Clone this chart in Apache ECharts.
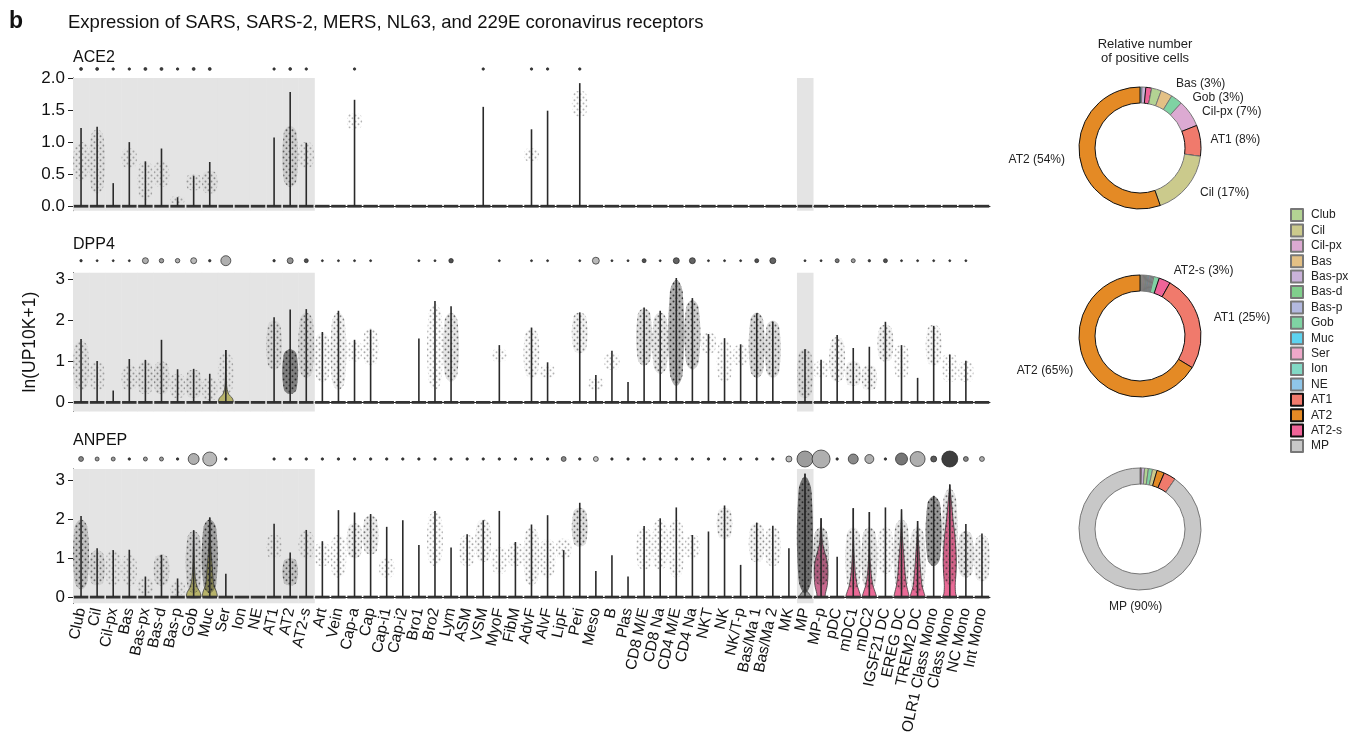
<!DOCTYPE html>
<html>
<head>
<meta charset="utf-8">
<script src="https://cdn.jsdelivr.net/npm/echarts@6/dist/echarts.min.js"></script>
<style>
  html, body { margin: 0; padding: 0; background: #fff; }
  #chart { width: 1359px; height: 743px; }
</style>
</head>
<body>
<div id="chart"></div>
<script>
// cell types along the x axis
const cellTypes = ['Club', 'Cil', 'Cil-px', 'Bas', 'Bas-px', 'Bas-d', 'Bas-p', 'Gob', 'Muc', 'Ser', 'Ion', 'NE',
  'AT1', 'AT2', 'AT2-s', 'Art', 'Vein', 'Cap-a', 'Cap', 'Cap-i1', 'Cap-i2', 'Bro1', 'Bro2', 'Lym', 'ASM', 'VSM',
  'MyoF', 'FibM', 'AdvF', 'AlvF', 'LipF', 'Peri', 'Meso', 'B', 'Plas', 'CD8 M/E', 'CD8 Na', 'CD4 M/E', 'CD4 Na',
  'NKT', 'NK', 'NK/T-p', 'Bas/Ma 1', 'Bas/Ma 2', 'MK', 'MP', 'MP-p', 'pDC', 'mDC1', 'mDC2', 'IGSF21 DC', 'EREG DC',
  'TREM2 DC', 'OLR1 Class Mono', 'Class Mono', 'NC Mono', 'Int Mono'];

// shaded columns (epithelial + MP)
const shadedTypes = ['Club', 'Cil', 'Cil-px', 'Bas', 'Bas-px', 'Bas-d', 'Bas-p', 'Gob', 'Muc', 'Ser', 'Ion', 'NE',
  'AT1', 'AT2', 'AT2-s', 'MP'];

// max expression per cell type (top of each violin)
const ace2Max = [1.22, 1.24, 0.36, 1.0, 0.70, 0.90, 0.14, 0.47, 0.69, 0, 0, 0, 1.07, 1.78, 0.99, 0, 0, 1.66, 0, 0,
  0, 0, 0, 0, 0, 1.55, 0, 0, 1.20, 1.49, 0, 1.92, 0, 0, 0, 0, 0, 0, 0, 0,
  0, 0, 0, 0, 0, 0, 0, 0, 0, 0, 0, 0, 0, 0, 0, 0, 0];
const dpp4Max = [1.55, 1.01, 0.29, 1.06, 1.04, 1.53, 0.81, 0.82, 0.70, 1.28, 0, 0, 2.08, 2.27, 2.28, 1.72, 2.24, 1.53, 1.78, 0,
  0, 1.56, 2.48, 2.35, 0, 0, 1.40, 0, 1.83, 0.98, 0, 2.20, 0.67, 1.26, 0.50, 2.32, 2.24, 3.04, 2.55, 1.67,
  1.57, 1.42, 2.18, 1.97, 0, 1.30, 1.04, 1.65, 1.33, 1.36, 1.97, 1.40, 0.60, 1.87, 1.17, 1.02, 0];
const anpepMax = [2.09, 1.26, 1.21, 1.22, 0.53, 1.09, 0.48, 1.72, 2.05, 0.60, 0, 0, 1.89, 1.15, 1.73, 1.44, 2.24, 2.18, 2.14, 1.81,
  1.98, 1.34, 2.22, 1.28, 1.62, 1.98, 2.22, 1.42, 1.87, 2.11, 1.21, 2.43, 0.67, 1.08, 0.53, 1.83, 2.03, 2.31, 1.60, 1.69,
  2.36, 0.83, 1.92, 1.84, 1.26, 3.18, 2.03, 1.04, 2.29, 2.19, 2.31, 2.26, 1.96, 2.61, 2.90, 1.88, 1.64];

// percent of positive cells (dot size) and mean level (dot shade, 0 light .. 1 dark)
const ace2Pct = [2.2, 2.2, 1.5, 1.5, 2.2, 2.2, 1.5, 2.2, 2.2, 0, 0, 0, 1.5, 2, 1.5, 0, 0, 1.5, 0, 0,
  0, 0, 0, 0, 0, 1.5, 0, 0, 1.5, 1.5, 0, 1.5, 0, 0, 0, 0, 0, 0, 0, 0,
  0, 0, 0, 0, 0, 0, 0, 0, 0, 0, 0, 0, 0, 0, 0, 0, 0];
const ace2Mean = ace2Pct.map(p => (p > 0 ? 0.9 : 0));
const dpp4Pct = [1.5, 1, 1, 1, 9, 5, 5, 9, 1.5, 25, 0, 0, 1.5, 9, 4, 1, 1, 1, 1, 0,
  0, 1, 1, 5, 0, 0, 1, 0, 1, 1, 0, 1, 12, 1, 1, 4, 1, 9, 9, 1,
  1, 1, 4, 9, 0, 1, 1, 4, 4, 1.5, 4, 1, 1, 1, 1, 1, 0];
const dpp4Mean = [0.9, 0.9, 0.9, 0.9, 0.3, 0.4, 0.3, 0.25, 0.9, 0.3, 0, 0, 0.9, 0.45, 0.8, 0.9, 0.9, 0.9, 0.9, 0,
  0, 0.9, 0.9, 0.8, 0, 0, 0.9, 0, 0.9, 0.9, 0, 0.9, 0.25, 0.9, 0.9, 0.8, 0.9, 0.7, 0.7, 0.9,
  0.9, 0.9, 0.8, 0.7, 0, 0.9, 0.9, 0.6, 0.4, 0.9, 0.8, 0.9, 0.9, 0.9, 0.9, 0.9, 0];
const anpepPct = [6, 4, 4, 1.5, 4, 4, 1.5, 30, 49, 1.5, 0, 0, 1.5, 1.5, 1.5, 1.5, 1.5, 1.5, 1.5, 1.5,
  1.5, 1.5, 1.5, 1.5, 1.5, 1.5, 1.5, 1.5, 1.5, 1.5, 6, 1.5, 6, 1.5, 1.5, 1.5, 1.5, 1.5, 1.5, 1.5,
  1.5, 1.5, 1.5, 1.5, 9, 64, 81, 1.5, 25, 20, 1.5, 36, 56, 9, 64, 6, 6];
const anpepMean = [0.5, 0.4, 0.4, 0.9, 0.4, 0.4, 0.9, 0.3, 0.25, 0.9, 0, 0, 0.9, 0.9, 0.9, 0.9, 0.9, 0.9, 0.9, 0.9,
  0.9, 0.9, 0.9, 0.9, 0.9, 0.9, 0.9, 0.9, 0.9, 0.9, 0.5, 0.9, 0.2, 0.9, 0.9, 0.9, 0.9, 0.9, 0.9, 0.9,
  0.9, 0.9, 0.9, 0.9, 0.25, 0.4, 0.3, 0.9, 0.5, 0.3, 0.9, 0.6, 0.3, 0.75, 0.9, 0.5, 0.3];

// point clouds: [cell type, low, high, density]
const ace2Clouds = [['Club', 0.4, 1.0, 0.15], ['Cil', 0.2, 1.2, 0.2], ['Bas', 0.6, 0.9, 0.1], ['Bas-px', 0.1, 0.7, 0.1],
  ['Bas-d', 0.3, 0.7, 0.1], ['Bas-p', 0.05, 0.15, 0.1], ['Gob', 0.25, 0.5, 0.15], ['Muc', 0.2, 0.55, 0.2],
  ['AT2', 0.3, 1.25, 0.4], ['AT2-s', 0.6, 1.0, 0.1], ['Cap-a', 1.2, 1.45, 0.1], ['AdvF', 0.7, 0.9, 0.1],
  ['Peri', 1.4, 1.8, 0.1]];
const dpp4Clouds = [['Club', 0.3, 1.5, 0.2], ['Cil', 0.3, 1.0, 0.1], ['Bas', 0.3, 0.9, 0.15], ['Bas-px', 0.2, 1.0, 0.2],
  ['Bas-d', 0.2, 1.0, 0.25], ['Bas-p', 0.1, 0.7, 0.15], ['Gob', 0.1, 0.8, 0.25], ['Muc', 0.05, 0.6, 0.15],
  ['Ser', 0.2, 1.2, 0.1], ['AT1', 0.8, 2.0, 0.3], ['AT2', 0.2, 1.3, 0.85], ['AT2-s', 0.6, 2.2, 0.35],
  ['Art', 0.5, 1.7, 0.2], ['Vein', 0.3, 2.2, 0.3], ['Cap-a', 1.0, 1.5, 0.1], ['Cap', 0.9, 1.8, 0.15],
  ['Bro2', 0.3, 2.4, 0.15], ['Lym', 0.5, 2.2, 0.4], ['MyoF', 1.0, 1.3, 0.1], ['AdvF', 0.6, 1.8, 0.2],
  ['AlvF', 0.6, 0.9, 0.1], ['Peri', 1.2, 2.2, 0.3], ['Meso', 0.3, 0.6, 0.1], ['B', 0.8, 1.2, 0.1],
  ['CD8 M/E', 0.9, 2.3, 0.45], ['CD8 Na', 0.7, 2.2, 0.4], ['CD4 M/E', 0.4, 3.0, 0.7], ['CD4 Na', 0.8, 2.5, 0.55],
  ['NKT', 1.2, 1.7, 0.15], ['NK', 0.5, 1.5, 0.1], ['NK/T-p', 0.9, 1.4, 0.1], ['Bas/Ma 1', 0.6, 2.2, 0.5],
  ['Bas/Ma 2', 0.6, 2.0, 0.45], ['MP', 0.1, 1.3, 0.3], ['MP-p', 0.6, 1.0, 0.1], ['pDC', 0.5, 1.6, 0.25],
  ['mDC1', 0.4, 1.0, 0.3], ['mDC2', 0.3, 0.9, 0.25], ['IGSF21 DC', 1.0, 1.9, 0.3], ['EREG DC', 0.6, 1.4, 0.1],
  ['OLR1 Class Mono', 0.9, 1.9, 0.2], ['Class Mono', 0.5, 1.2, 0.1], ['NC Mono', 0.5, 1.0, 0.1]];
const anpepClouds = [['Club', 0.2, 2.0, 0.5], ['Cil', 0.3, 1.2, 0.35], ['Cil-px', 0.3, 1.2, 0.1], ['Bas', 0.3, 1.1, 0.1],
  ['Bas-px', 0.05, 0.5, 0.15], ['Bas-d', 0.3, 1.1, 0.3], ['Bas-p', 0.05, 0.4, 0.1], ['Gob', 0.1, 1.7, 0.4],
  ['Muc', 0.1, 2.0, 0.7], ['AT1', 1.0, 1.6, 0.1], ['AT2', 0.3, 1.0, 0.5], ['AT2-s', 1.0, 1.7, 0.1],
  ['Art', 0.8, 1.4, 0.15], ['Vein', 0.5, 1.6, 0.15], ['Cap-a', 1.0, 1.9, 0.3], ['Cap', 1.1, 2.1, 0.35],
  ['Cap-i1', 0.5, 1.0, 0.1], ['Bro2', 0.8, 2.2, 0.15], ['ASM', 0.8, 1.6, 0.15], ['VSM', 0.9, 2.0, 0.2],
  ['MyoF', 0.6, 1.3, 0.1], ['FibM', 0.8, 1.4, 0.15], ['AdvF', 0.3, 1.8, 0.2], ['AlvF', 0.5, 1.5, 0.15],
  ['LipF', 1.0, 1.5, 0.15], ['Peri', 1.3, 2.3, 0.45], ['CD8 M/E', 0.7, 1.8, 0.15], ['CD8 Na', 0.7, 2.0, 0.15],
  ['CD4 M/E', 0.5, 2.0, 0.15], ['CD4 Na', 1.0, 1.6, 0.1], ['NK', 1.5, 2.3, 0.3], ['Bas/Ma 1', 0.9, 1.9, 0.25],
  ['Bas/Ma 2', 0.8, 1.8, 0.2], ['MP', 0.1, 3.1, 0.9], ['MP-p', 0.3, 1.8, 0.5], ['mDC1', 0.2, 1.8, 0.35],
  ['mDC2', 0.2, 1.8, 0.4], ['IGSF21 DC', 0.6, 1.8, 0.2], ['EREG DC', 0.2, 2.0, 0.4], ['TREM2 DC', 0.1, 1.8, 0.35],
  ['OLR1 Class Mono', 0.8, 2.6, 0.8], ['Class Mono', 0.3, 2.8, 0.4], ['NC Mono', 0.5, 1.7, 0.4],
  ['Int Mono', 0.4, 1.6, 0.3]];

// violin outlines: [value, relative half width]
const dpp4Violins = [
  { cat: 'Ser', profile: [[0, 1], [0.1, 0.9], [0.2, 0.4], [0.35, 0.15], [0.6, 0.07], [1.28, 0]] }
];
const anpepViolins = [
  { cat: 'Gob', profile: [[0, 0.95], [0.12, 0.9], [0.25, 0.5], [0.45, 0.25], [0.8, 0.12], [1.3, 0.05], [1.72, 0]] },
  { cat: 'Muc', profile: [[0, 1], [0.12, 0.95], [0.3, 0.6], [0.5, 0.45], [0.8, 0.35], [1.1, 0.2], [1.5, 0.08], [2.05, 0]] },
  { cat: 'MP', profile: [[0, 0.8], [0.08, 0.6], [0.2, 0.1], [0.5, 0.03], [3.18, 0]] },
  { cat: 'MP-p', profile: [[0, 0.5], [0.1, 0.6], [0.3, 0.85], [0.6, 0.95], [0.9, 0.85], [1.2, 0.45], [1.4, 0.2], [2.03, 0]] },
  { cat: 'mDC1', profile: [[0, 1], [0.1, 0.9], [0.3, 0.55], [0.6, 0.3], [1.0, 0.15], [1.5, 0.05], [2.29, 0]] },
  { cat: 'mDC2', profile: [[0, 0.95], [0.1, 0.85], [0.3, 0.5], [0.6, 0.25], [1.0, 0.1], [1.5, 0.03], [2.19, 0]] },
  { cat: 'EREG DC', profile: [[0, 1], [0.1, 0.95], [0.3, 0.7], [0.6, 0.5], [1.0, 0.35], [1.5, 0.15], [1.9, 0.05], [2.26, 0]] },
  { cat: 'TREM2 DC', profile: [[0, 1], [0.1, 0.9], [0.3, 0.6], [0.7, 0.4], [1.1, 0.25], [1.5, 0.1], [1.96, 0]] },
  { cat: 'Class Mono', profile: [[0, 0.9], [0.1, 0.8], [0.3, 0.75], [0.6, 0.85], [0.9, 0.9], [1.2, 0.85], [1.6, 0.7], [2.0, 0.45], [2.4, 0.25], [2.9, 0]] }
];

// relative number of positive cells, in clockwise order
const ace2Share = [['Muc', 0.5], ['Bas-px', 1], ['AT2-s', 1.5], ['Club', 2.5], ['Bas', 3], ['Gob', 3],
  ['Cil-px', 7], ['AT1', 8], ['Cil', 17], ['AT2', 54]];
const dpp4Share = [['Club', 0.3], ['Cil', 0.3], ['Cil-px', 0.3], ['Bas', 0.3], ['Bas-px', 0.3], ['Bas-d', 0.3],
  ['Bas-p', 0.3], ['Muc', 0.3], ['Ser', 0.3], ['Ion', 0.3], ['NE', 0.3], ['MP', 0.3], ['Gob', 1.4],
  ['AT2-s', 3], ['AT1', 25], ['AT2', 65]];
const anpepShare = [['AT2-s', 0.4], ['Bas-px', 0.8], ['Club', 1], ['Gob', 1.1], ['Cil', 1.2], ['AT2', 2],
  ['AT1', 3.2], ['MP', 90]];
const ace2Labeled = ['Bas', 'Gob', 'Cil-px', 'AT1', 'Cil', 'AT2'];
const dpp4Labeled = ['AT2-s', 'AT1', 'AT2'];
const anpepLabeled = ['MP'];

const legendNames = ['Club', 'Cil', 'Cil-px', 'Bas', 'Bas-px', 'Bas-d', 'Bas-p', 'Gob', 'Muc', 'Ser', 'Ion', 'NE',
  'AT1', 'AT2', 'AT2-s', 'MP'];

const typeColor = {
  'Club': '#b3d393', 'Cil': '#cbca8c', 'Cil-px': '#dcaad2', 'Bas': '#e3c085', 'Bas-px': '#c9b2d9',
  'Bas-d': '#80cf8c', 'Bas-p': '#b3b9df', 'Gob': '#7fd3a3', 'Muc': '#5dd3ef', 'Ser': '#eea8c9',
  'Ion': '#82d9c5', 'NE': '#8fc6e9', 'AT1': '#f07a6c', 'AT2': '#e48a25', 'AT2-s': '#ef6498', 'MP': '#c8c8c8'
};
const strongBorder = ['AT1', 'AT2', 'AT2-s'];
const olive = '#b7b36a', pink = '#ea6a96';
const violinColor = { 'Ser': olive, 'Gob': olive, 'Muc': olive, 'MP': '#9a9a9a', 'MP-p': '#c9698f' };

const FONT = '"Liberation Sans", Arial, sans-serif';

const panels = [
  { gene: 'ACE2', max: ace2Max, pct: ace2Pct, mean: ace2Mean, clouds: ace2Clouds, violins: [],
    top: 78, height: 132.7, ymin: -0.07, ymax: 2.0, ticks: [0, 0.5, 1, 1.5, 2], dec: 1, dotY: 69 },
  { gene: 'DPP4', max: dpp4Max, pct: dpp4Pct, mean: dpp4Mean, clouds: dpp4Clouds, violins: dpp4Violins,
    top: 272.7, height: 138.7, ymin: -0.22, ymax: 3.17, ticks: [0, 1, 2, 3], dec: 0, dotY: 260.7 },
  { gene: 'ANPEP', max: anpepMax, pct: anpepPct, mean: anpepMean, clouds: anpepClouds, violins: anpepViolins,
    top: 469, height: 134.3, ymin: -0.16, ymax: 3.3, ticks: [0, 1, 2, 3], dec: 0, dotY: 459 }
];

function grayOf(level) {
  const g = Math.round(232 - 190 * level);
  return 'rgb(' + g + ',' + g + ',' + g + ')';
}

// small stipple tile so the jittered cells read as dots rather than a smear
const stipple = (function () {
  const c = document.createElement('canvas');
  c.width = 6; c.height = 6;
  const ctx = c.getContext('2d');
  ctx.fillStyle = '#2a2a2a';
  [[1.5, 1.5], [4.5, 4.2]].forEach(p => {
    ctx.beginPath(); ctx.arc(p[0], p[1], 0.95, 0, Math.PI * 2); ctx.fill();
  });
  return c;
})();

function shadeRenderer(params, api) {
  const c = api.coord([api.value(0), 0]);
  const band = api.size([1, 0])[0];
  const cs = params.coordSys;
  return { type: 'rect', shape: { x: c[0] - band / 2, y: cs.y, width: band + 0.5, height: cs.height },
    style: { fill: '#e4e4e4' }, silent: true };
}

function violinRenderer(panel) {
  return function (params, api) {
    const i = api.value(0);
    const cat = cellTypes[i];
    const base = api.coord([i, 0]);
    const band = api.size([1, 0])[0];
    const half = band * 0.45;
    const children = [];
    const vio = panel.violins.find(v => v.cat === cat);
    if (vio) {
      const right = vio.profile.map(p => [base[0] + p[1] * half, api.coord([i, p[0]])[1]]);
      const left = vio.profile.slice().reverse().map(p => [base[0] - p[1] * half, api.coord([i, p[0]])[1]]);
      children.push({ type: 'polygon', shape: { points: right.concat(left), smooth: 0.25 },
        style: { fill: violinColor[cat] || pink, stroke: '#3a3a3a', lineWidth: 0.8 } });
    }
    const cloud = panel.clouds.find(c => c[0] === cat);
    if (cloud) {
      const lo = api.coord([i, cloud[1]])[1];
      const hi = api.coord([i, cloud[2]])[1];
      const w = band * 0.4;
      const t = (lo - hi) * 0.12;
      const pts = [[base[0], lo], [base[0] + w, lo - t], [base[0] + w, hi + t], [base[0], hi],
        [base[0] - w, hi + t], [base[0] - w, lo - t]];
      const d = cloud[3];
      children.push({ type: 'polygon', shape: { points: pts, smooth: 0.4 },
        style: { fill: 'rgba(40,40,40,' + (d * d * 0.75).toFixed(3) + ')' } });
      children.push({ type: 'polygon', shape: { points: pts, smooth: 0.4 },
        style: { fill: { image: stipple, repeat: 'repeat' }, opacity: Math.min(1, 0.25 + d) } });
    }
    children.push({ type: 'rect', shape: { x: base[0] - half, y: base[1] - 1.4, width: half * 2, height: 2.8 },
      style: { fill: '#333' } });
    if (panel.max[i] > 0) {
      const top = api.coord([i, panel.max[i]]);
      children.push({ type: 'line', shape: { x1: base[0], y1: base[1], x2: base[0], y2: top[1] },
        style: { stroke: '#2a2a2a', lineWidth: 1.6 } });
    }
    return { type: 'group', children: children, silent: true };
  };
}

const grids = [], xAxes = [], yAxes = [], series = [], titles = [];

panels.forEach((p, k) => {
  grids.push({ left: 73, width: 917, top: p.top, height: p.height });
  xAxes.push({
    type: 'category', gridIndex: k, data: cellTypes, boundaryGap: true,
    axisLine: { lineStyle: { color: '#222', width: 1 } },
    axisTick: { alignWithLabel: true, interval: 0, length: 6, lineStyle: { color: '#222' } },
    axisLabel: k === 2
      ? { show: true, interval: 0, rotate: 78, fontSize: 15.5, color: '#111', fontFamily: FONT, margin: 5 }
      : { show: false },
    splitLine: { show: false }
  });
  yAxes.push({
    type: 'value', gridIndex: k, min: p.ymin, max: p.ymax,
    axisLine: { show: true, lineStyle: { color: '#222', width: 1 } },
    axisTick: { show: true, length: 5, customValues: p.ticks, lineStyle: { color: '#222' } },
    axisLabel: { customValues: p.ticks, fontSize: 17, color: '#111', fontFamily: FONT, margin: 8,
      formatter: v => v.toFixed(p.dec) },
    splitLine: { show: false },
    name: k === 1 ? 'ln(UP10K+1)' : '',
    nameLocation: 'middle', nameGap: 34,
    nameTextStyle: { fontSize: 17.5, color: '#111', fontFamily: FONT }
  });
  series.push({
    type: 'custom', xAxisIndex: k, yAxisIndex: k, z: 1, silent: true,
    renderItem: shadeRenderer,
    data: shadedTypes.map(t => [cellTypes.indexOf(t), 0])
  });
  series.push({
    type: 'custom', xAxisIndex: k, yAxisIndex: k, z: 2, silent: true,
    renderItem: violinRenderer(p),
    data: cellTypes.map((t, i) => [i, p.max[i]])
  });
  titles.push({ text: p.gene, left: 68, top: p.top - (k === 0 ? 33 : 41),
    textStyle: { fontSize: 16, fontWeight: 'normal', color: '#111', fontFamily: FONT } });
});

// dot rows above each panel
panels.forEach((p, k) => {
  const g = 3 + k;
  grids.push({ left: 73, width: 917, top: p.dotY - 10, height: 20 });
  xAxes.push({ type: 'category', gridIndex: g, data: cellTypes, show: false });
  yAxes.push({ type: 'value', gridIndex: g, min: 0, max: 1, show: false });
  series.push({
    type: 'scatter', xAxisIndex: g, yAxisIndex: g, silent: true,
    data: cellTypes.map((t, i) => [i, 0.5, p.pct[i], p.mean[i]]).filter(d => d[2] > 0),
    symbolSize: v => 2 * Math.sqrt(v[2]),
    itemStyle: { color: prm => grayOf(prm.data[3]), borderColor: '#222', borderWidth: 0.7, opacity: 1 }
  });
});

function pieData(share, labeled) {
  return share.map(s => ({
    name: s[0], value: s[1],
    itemStyle: { color: typeColor[s[0]], borderColor: strongBorder.includes(s[0]) ? '#111' : '#777', borderWidth: 1 },
    label: { show: labeled.includes(s[0]) }
  }));
}

const pieCenters = [[1140, 148], [1140, 336], [1140, 529]];
const pieShares = [[ace2Share, ace2Labeled], [dpp4Share, dpp4Labeled], [anpepShare, anpepLabeled]];
pieShares.forEach((ps, k) => {
  series.push({
    type: 'pie', center: pieCenters[k], radius: [45, 61], startAngle: 90, clockwise: true,
    silent: true, emphasis: { disabled: true },
    label: { position: 'outside', formatter: '{b} ({c}%)', fontSize: 12, color: '#222', fontFamily: FONT },
    labelLine: { show: false, length: 10, length2: 0 },
    labelLayout: k === 2 ? { align: 'center', dx: 22, dy: 10 } : null,
    data: pieData(ps[0], ps[1])
  });
});

titles.push({ text: 'b', left: 4, top: 5, textStyle: { fontSize: 23, fontWeight: 'bold', color: '#111', fontFamily: FONT } });
titles.push({ text: 'Expression of SARS, SARS-2, MERS, NL63, and 229E coronavirus receptors', left: 63, top: 8,
  textStyle: { fontSize: 18.5, fontWeight: 'normal', color: '#111', fontFamily: FONT } });
titles.push({ text: 'Relative number\nof positive cells', left: 1140, top: 32, textAlign: 'center',
  textStyle: { fontSize: 13, fontWeight: 'normal', color: '#222', fontFamily: FONT, lineHeight: 14 } });

const chart = echarts.init(document.getElementById('chart'));
chart.setOption({
  animation: false,
  backgroundColor: '#fff',
  title: titles,
  grid: grids,
  xAxis: xAxes,
  yAxis: yAxes,
  legend: {
    data: legendNames, orient: 'vertical', left: 1285, top: 203, icon: 'rect',
    itemWidth: 12, itemHeight: 12, itemGap: 1.4, selectedMode: false,
    textStyle: { fontSize: 12, color: '#222', fontFamily: FONT, padding: [0, 0, 0, 3] }
  },
  series: series
});
</script>
</body>
</html>
